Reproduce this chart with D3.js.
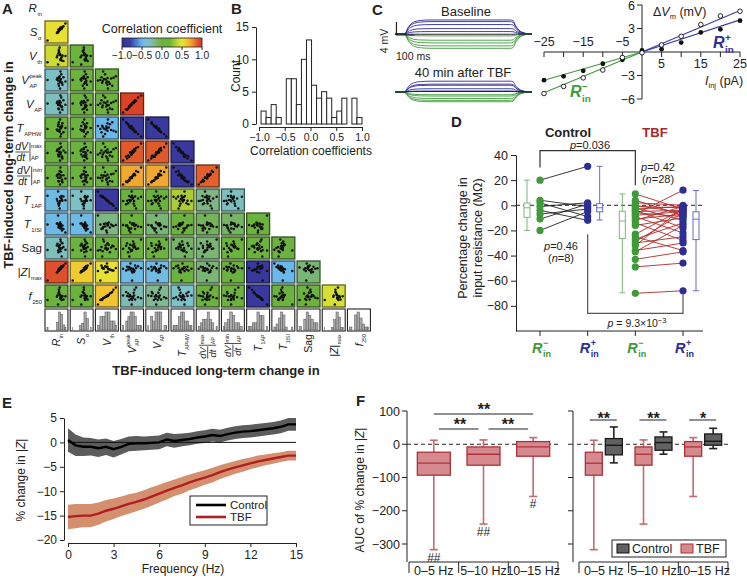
<!DOCTYPE html>
<html><head><meta charset="utf-8">
<script src="https://cdn.jsdelivr.net/npm/d3@7"></script>
<style>html,body{margin:0;padding:0;background:#fff}</style>
</head><body>
<svg id="chart" width="747" height="578" xmlns="http://www.w3.org/2000/svg"></svg>
<script>
const FONT='"Liberation Sans", Arial, Helvetica, sans-serif';
const svg=d3.select("#chart").attr("font-family",FONT);
const INK="#222";

// ================= DATA =================
// Panel A: estimated per-cell long-term changes (normalized 0-100) per variable
const aVars = ["Rin","Sa","Vth","Vpeak","VAP","TAPHW","dVmax","dVmin","T1AP","T1ISI","Sag","Zmax","f250"];
const vRin   = [5,62,70,55,78,66,72,60,85,68,74,58,80,64,70,95,62,76,52,68];
const vSa    = [8,55,72,50,70,60,68,62,78,66,70,48,75,58,64,92,60,66,45,62];
const vVth   = [30,80,40,60,55,95,45,70,35,65,50,20,60,75,42,58,85,38,52,62];
const vVpeak = [50,20,45,60,35,70,55,30,65,40,80,48,25,58,95,42,62,36,52,5];
const vVAP   = [52,24,42,62,38,66,58,28,68,44,82,45,22,55,92,46,60,34,55,8];
const vTAPHW = [45,80,55,35,58,30,48,70,28,52,18,60,75,40,5,50,36,62,42,95];
const vDVmax = [48,30,40,65,30,72,50,35,60,50,78,40,20,52,95,50,66,28,58,10];
const vDVmin = [44,28,46,58,36,75,55,30,56,46,70,45,25,60,90,42,62,32,52,15];
const vT1AP  = [65,25,58,40,45,5,55,30,62,38,52,85,42,28,60,44,18,64,50,40];
const vT1ISI = [50,45,30,55,20,48,52,35,28,60,40,95,45,50,38,10,42,30,55,48];
const vSag   = [40,60,35,70,50,45,80,30,55,65,48,38,72,52,90,42,58,10,62,46];
const vZmax  = [8,58,68,50,75,70,66,62,82,64,78,55,76,60,68,92,58,72,48,66];
const vF250  = [40,75,45,60,55,95,50,68,42,62,52,20,58,72,48,56,85,40,54,60];
const aValues = [vRin,vSa,vVth,vVpeak,vVAP,vTAPHW,vDVmax,vDVmin,vT1AP,vT1ISI,vSag,vZmax,vF250];

// correlation coefficients (row variable vs earlier column variables)
const corrSa    = [0.52];
const corrVth   = [0.42,0.12];
const corrVpeak = [-0.32,0.1,0.08];
const corrVAP   = [-0.3,-0.05,0.05,0.95];
const corrTAPHW = [0.1,0.05,-0.5,-0.86,-0.86];
const corrDVmax = [0.1,0.1,0.15,0.86,0.86,-0.88];
const corrDVmin = [0.05,0.05,0.1,0.72,0.72,-0.88,0.85];
const corrT1AP  = [-0.45,-0.32,-0.88,0.1,0.1,0.33,-0.18,-0.3];
const corrT1ISI = [-0.47,-0.47,-0.18,0.05,-0.15,0.1,-0.1,-0.12,0.1];
const corrSag   = [-0.3,0.1,0.05,0.1,0.1,-0.12,-0.15,0.1,0.1,0.08];
const corrZmax  = [0.9,0.6,0.52,-0.45,-0.45,0.05,-0.15,-0.05,-0.88,-0.5,-0.15];
const corrF250  = [0.1,0.1,0.62,-0.28,-0.2,-0.33,0.05,0.1,-0.88,0.1,0.05,0.45];
const corrRows = [corrSa,corrVth,corrVpeak,corrVAP,corrTAPHW,corrDVmax,corrDVmin,corrT1AP,corrT1ISI,corrSag,corrZmax,corrF250];
const cbTicks = [-1,-0.5,0,0.5,1];

// Panel B histogram counts
const bCounts = [2,1,3,1,0,7,7,3,10,13,6,4,5,4,1,2,4,0,4,1];
const bStart = -0.96, bWidth = 0.098;

// Panel C
const ivI    = [-25,-20,-15,-10,-5,0,5,10,15,20,25];
const ivBase = [-5.3,-4.4,-3.3,-2.3,-0.7,-0.1,0.9,2.0,3.5,4.6,5.2];
const ivTBF  = [-3.6,-3.1,-2.4,-1.5,-1.0,0.2,0.35,1.2,2.5,2.9,4.0];
const fitSlopes = {basePos:0.212, baseNeg:0.208, tbfPos:0.164, tbfNeg:0.144};
const traceTime  = [0,50,60,70,80,95,110,140,200,300,400,500,600,640,655,668,680,695,710,730,760];
const traceShape = [0,0,0.1,0.4,0.6,0.78,0.88,0.96,1,1,1,1,1,1,0.95,0.62,0.4,0.2,0.1,0.03,0];

// Panel D
const dCtlNeg = [20,4,2,-1,-4,-7,-11,-20];
const dCtlPos = [31,-1,-9,2,-12,-3,1,-5];
const dTbfNeg = [9,4,2,0,-1,-2,-3,-4,-5,-6,-7,-8,-9,-11,-12,-14,-16,-23,-25,-27,-29,-30,-32,-36,-37,-43,-49,-70];
const dTbfPos = [-3,-8,0,-6,-2,-12,-1,-18,-4,-9,12,-5,-22,-7,-1,-28,-10,-3,-36,-14,-6,-25,-2,-30,-16,-37,-46,-68];
const dBoxLo  = [-20,-11.7,-69.6,-68];
const dBoxQ1  = [-9.6,-5.2,-26.5,-27.3];
const dBoxMed = [-2,-2,-12.5,-11];
const dBoxQ3  = [1.8,1.3,-4.7,-5.2];
const dBoxHi  = [20,31,9,11.7];
const dTicks  = [40,20,0,-20,-40,-60,-80];

// Panel E
const eFreq = [0,0.5,1,1.5,2,2.5,3,3.5,4,4.5,5,5.5,6,6.5,7,7.5,8,8.5,9,9.5,10,10.5,11,11.5,12,12.5,13,13.5,14,14.5,15];
const eCtlMean = [0.5,-0.6,-0.9,-0.9,-1.2,-0.9,-1.4,-0.9,-0.3,-0.2,-0.2,-0.1,0,0.6,0.3,0.5,0.7,1.0,1.2,1.5,1.3,1.7,2.0,2.2,2.3,2.5,2.7,2.9,3.2,3.7,3.7];
const eCtlSem  = [2.4,2.2,1.9,1.8,1.8,1.7,1.7,1.6,1.5,1.5,1.4,1.4,1.4,1.4,1.4,1.3,1.3,1.3,1.3,1.3,1.3,1.3,1.3,1.3,1.3,1.3,1.3,1.3,1.3,1.3,1.3];
const eTbfMean = [-15.3,-15.1,-15.0,-15.0,-14.6,-14.0,-13.6,-13.1,-12.6,-12.2,-11.7,-11.1,-10.5,-9.9,-9.3,-8.8,-8.2,-7.7,-7.2,-6.7,-6.1,-5.6,-5.1,-4.7,-4.3,-3.9,-3.6,-3.3,-3.0,-2.7,-2.7];
const eTbfSem  = [2.5,2.5,2.4,2.4,2.3,2.2,2.1,2.0,2.0,1.9,1.9,1.9,1.8,1.8,1.7,1.7,1.6,1.6,1.5,1.5,1.4,1.4,1.3,1.3,1.2,1.2,1.1,1.1,1.0,1.0,1.0];

// Panel F
const fCats = ["0–5 Hz","5–10 Hz","10–15 Hz"];
const fTbfLo  = [-317,-240,-157];
const fTbfQ1  = [-93,-63,-36];
const fTbfMed = [-57,-30,-8];
const fTbfQ3  = [-24,-8,8];
const fTbfHi  = [12,13,20];
const fCtlLo  = [-56,-30,-13];
const fCtlQ1  = [-32,-18,-3];
const fCtlMed = [-3,5,9];
const fCtlQ3  = [17,22,31];
const fCtlHi  = [52,37,48];
const fHash   = ["##","##","#"];
const fRightSig = ["**","**","*"];

// ================= HELPERS =================
function txt(g,x,y,s,fs,anchor,extra){
  const t=g.append("text").attr("x",x).attr("y",y).attr("font-size",fs).attr("fill",INK).attr("text-anchor",anchor||"start").text(s);
  if(extra) Object.entries(extra).forEach(([k,v])=>t.attr(k,v));
  return t;
}
function styleAxis(g,fs){
  g.attr("font-family",FONT).attr("font-size",fs);
  g.selectAll("text").attr("fill",INK);
  g.selectAll("line,path").attr("stroke",INK).attr("stroke-width",1);
}
function label(g,x,y,s){ txt(g,x,y,s,15,"start",{"font-weight":"bold"}); }

const labelSpec = {
  Rin:{m:"R",sub:"in"}, Sa:{m:"S",sub:"α"}, Vth:{m:"V",sub:"th"}, Vpeak:{m:"V",sub:"AP",sup:"peak"},
  VAP:{m:"V",sub:"AP"}, TAPHW:{m:"T",sub:"APHW"}, dVmax:{frac:"max"}, dVmin:{frac:"min"},
  T1AP:{m:"T",sub:"1AP"}, T1ISI:{m:"T",sub:"1ISI"}, Sag:{m:"Sag",up:true}, Zmax:{m:"|Z|",sub:"max"}, f250:{m:"f",sub:"250"}
};
function varLabel(parent,key,fs){
  const sp=labelSpec[key]; const g=parent.append("g"); const ss=fs*0.5; const b=fs*0.36;
  if(sp.frac){
    const f=fs*0.9, s2=fs*0.5;
    txt(g,0,-2,"dV",f,"start",{"font-style":"italic"});
    g.append("line").attr("x1",0).attr("x2",f*1.3).attr("y1",0).attr("y2",0).attr("stroke",INK).attr("stroke-width",0.8);
    txt(g,f*0.12,f*0.86,"dt",f,"start",{"font-style":"italic"});
    g.append("line").attr("x1",f*1.42).attr("x2",f*1.42).attr("y1",-f*0.9).attr("y2",f*0.9).attr("stroke",INK).attr("stroke-width",0.8);
    txt(g,f*1.52,-f*0.42,sp.frac,s2);
    txt(g,f*1.52,f*0.82,"AP",s2);
    return g;
  }
  const t=txt(g,0,b,sp.m,fs);
  if(!sp.up) t.attr("font-style","italic");
  const w=t.node().getComputedTextLength();
  if(sp.sub) txt(g,w+0.6,b+fs*0.3,sp.sub,ss);
  if(sp.sup) txt(g,w+0.6,b-fs*0.55,sp.sup,ss);
  return g;
}

// ================= PANEL A =================
const A=svg.append("g");
label(A,2,14,"A");
const aCol = d3.scaleBand().domain(aVars).range([45,45+13*25.2-2.2]).paddingInner(0.09).paddingOuter(0);
const aRow = d3.scaleBand().domain(aVars.concat(["hist"])).range([-3,-3+14*24-2]).paddingInner(0.083).paddingOuter(0);
const corrColor = d3.scaleLinear()
  .domain([-1,-0.8,-0.65,-0.5,-0.35,-0.2,-0.05,0.2,0.35,0.5,0.62,0.75,0.86,1])
  .range(["#33339a","#3b3ba0","#4a78d0","#6ab8ea","#7cc2d2","#80b890","#6cb040","#6cb43c","#b4d034","#e6e636","#f2c430","#f0a030","#e05a2c","#d83628"])
  .interpolate(d3.interpolateRgb);
const aExt = aValues.map(v=>d3.extent(v));
const bw=aCol.bandwidth(), bh=aRow.bandwidth();
corrRows.forEach((row,ri)=>{
  const r=ri+1; const ry=aRow(aVars[r]);
  row.forEach((cv,c)=>{
    const cx=aCol(aVars[c]);
    const fill=corrColor(cv);
    A.append("rect").attr("x",cx).attr("y",ry).attr("width",bw).attr("height",bh)
      .attr("fill",fill).attr("stroke",d3.color(fill).darker(2.2)).attr("stroke-width",1.3);
    const sx=d3.scaleLinear(aExt[c],[cx+2.5,cx+bw-2.5]);
    const sy=d3.scaleLinear(aExt[r],[ry+bh-2.5,ry+2.5]);
    A.append("g").selectAll("circle").data(d3.range(aValues[c].length)).join("circle")
      .attr("cx",i=>sx(aValues[c][i])).attr("cy",i=>sy(aValues[r][i])).attr("r",1.25).attr("fill","#111");
  });
});
// histogram row
aVars.forEach((k,c)=>{
  const cx=aCol(k), ry=aRow("hist");
  A.append("rect").attr("x",cx).attr("y",ry).attr("width",bw).attr("height",bh).attr("fill","#fff").attr("stroke",INK).attr("stroke-width",1.1);
  const bins=d3.bin().domain(aExt[c]).thresholds(7)(aValues[c]);
  const hx=d3.scaleLinear(aExt[c],[cx+2,cx+bw-2]);
  const hy=d3.scaleLinear([0,d3.max(bins,b=>b.length)],[ry+bh-1,ry+3]);
  A.append("g").selectAll("rect").data(bins).join("rect")
    .attr("x",b=>hx(b.x0)).attr("width",b=>Math.max(0,hx(b.x1)-hx(b.x0)))
    .attr("y",b=>hy(b.length)).attr("height",b=>hy(0)-hy(b.length))
    .attr("fill","#aaa").attr("stroke","#555").attr("stroke-width",0.5);
});
// row labels
aVars.forEach((k,r)=>{
  const cy=aRow(k)+bh/2;
  const g=varLabel(A,k,11.5);
  const bb=g.node().getBBox();
  g.attr("transform",`translate(${42-bb.x-bb.width},${cy})`);
});
// column labels
aVars.forEach((k,c)=>{
  const cx=aCol(k)+bw/2;
  const outer=A.append("g").attr("transform",`translate(${cx},${aRow("hist")+bh+3}) rotate(-90)`);
  const g=varLabel(outer,k,10.5);
  const bb=g.node().getBBox();
  g.attr("transform",`translate(${-bb.x-bb.width},0)`);
});
txt(A,13,165,"TBF-induced long-term change in",13,"middle",{"font-weight":"bold","transform":"rotate(-90,13,165)"});
txt(A,216,375,"TBF-induced long-term change in",13,"middle",{"font-weight":"bold"});
// colorbar
const cbX=d3.scaleLinear([-1,1],[122,202]);
const defs=svg.append("defs");
const grad=defs.append("linearGradient").attr("id","cbgrad");
d3.range(0,1.0001,0.05).forEach(t=>grad.append("stop").attr("offset",t).attr("stop-color",corrColor(-1+2*t)));
A.append("rect").attr("x",cbX(-1)).attr("y",38).attr("width",cbX(1)-cbX(-1)).attr("height",9).attr("fill","url(#cbgrad)").attr("stroke",INK).attr("stroke-width",0.8);
cbTicks.forEach(t=>{
  A.append("line").attr("x1",cbX(t)).attr("x2",cbX(t)).attr("y1",47).attr("y2",50).attr("stroke",INK);
  txt(A,cbX(t),59,d3.format(".1f")(t),10.2,"middle");
});
txt(A,162,33,"Correlation coefficient",12.5,"middle");

// ================= PANEL B =================
const B=svg.append("g");
label(B,231,14,"B");
const xB=d3.scaleLinear([-1,1],[259,362]);
const yB=d3.scaleLinear([0,15],[124,27]);
B.append("g").selectAll("rect").data(bCounts).join("rect")
  .attr("x",(d,i)=>xB(bStart+i*bWidth)).attr("width",(d,i)=>xB(bStart+(i+1)*bWidth)-xB(bStart+i*bWidth))
  .attr("y",d=>yB(d)).attr("height",d=>yB(0)-yB(d)).attr("fill","#fff").attr("stroke",INK).attr("stroke-width",1);
const gBy=B.append("g").attr("transform","translate(256,0)").call(d3.axisLeft(yB).tickValues([0,5,10,15]).tickSize(4).tickSizeOuter(0));
styleAxis(gBy,12);
const gBx=B.append("g").attr("transform","translate(0,127)").call(d3.axisBottom(xB).tickValues([-1,-0.5,0,0.5,1]).tickFormat(d3.format(".1f")).tickSize(4).tickSizeOuter(0));
styleAxis(gBx,10.5);
txt(B,311,155,"Correlation coefficients",12,"middle");
txt(B,240,76,"Count",12,"middle",{"transform":"rotate(-90,240,76)"});

// ================= PANEL C =================
const C=svg.append("g");
label(C,372,15,"C");
const trX=d3.scaleLinear([0,760],[395,532]);
const trY=d3.scaleLinear([-6,6],[16.2,-16.2]);
function drawTraces(baseY,amps){
  const order=d3.range(ivI.length).sort((a,b)=>Math.abs(ivI[a])-Math.abs(ivI[b])).reverse();
  order.forEach(i=>{
    const col=ivI[i]>0?"#2d2d96":(ivI[i]<0?"#3f9a3a":"#111");
    const line=d3.line().x((t,j)=>trX(t)).y((t,j)=>baseY+trY(amps[i]*traceShape[j])).curve(d3.curveMonotoneX);
    C.append("path").attr("d",line(traceTime)).attr("fill","none").attr("stroke",col).attr("stroke-width",0.9);
  });
}
drawTraces(34,ivBase);
drawTraces(92,ivTBF);
txt(C,466,16,"Baseline",13,"middle");
txt(C,463,77,"40 min after TBF",13,"middle");
// scale bar
C.append("path").attr("d",`M${trX(8)},${34+trY(0)-12}V${34+trY(0)+1}H${trX(8)+trX(100)-trX(0)}`).attr("fill","none").attr("stroke",INK).attr("stroke-width",1.2);
txt(C,396,60,"100 ms",10.5,"start");
txt(C,388,41,"4 mV",10.5,"middle",{"transform":"rotate(-90,388,41)"});
// IV plot
const xC=d3.scaleLinear([-25,25],[544,740]);
const yC=d3.scaleLinear([-6,6],[99,5]);
C.append("line").attr("x1",xC(-25)).attr("x2",xC(25)).attr("y1",yC(0)).attr("y2",yC(0)).attr("stroke",INK);
C.append("line").attr("x1",xC(0)).attr("x2",xC(0)).attr("y1",yC(6)).attr("y2",yC(-6)).attr("stroke",INK);
ivI.forEach(v=>{ if(v!==0) C.append("line").attr("x1",xC(v)).attr("x2",xC(v)).attr("y1",yC(0)).attr("y2",yC(0)+5).attr("stroke",INK); });
[-25,-15,-5].forEach(v=>txt(C,xC(v),yC(0)-6,d3.format("d")(v),12.5,"middle"));
[5,15,25].forEach(v=>txt(C,xC(v),yC(0)+16,String(v),12.5,"middle"));
[6,3,-3,-6].forEach(v=>{
  C.append("line").attr("x1",xC(0)-5).attr("x2",xC(0)).attr("y1",yC(v)).attr("y2",yC(v)).attr("stroke",INK);
  txt(C,xC(0)-7,yC(v)+4.5,d3.format("d")(v),12.5,"end");
});
const dv=txt(C,653,16,"",12.5,"start");
dv.append("tspan").text("Δ"); dv.append("tspan").attr("font-style","italic").text("V");
dv.append("tspan").attr("font-size",7.5).attr("dy",3).text("m");
dv.append("tspan").attr("dy",-3).text(" (mV)");
const ii=txt(C,705,85,"",12.5,"start");
ii.append("tspan").attr("font-style","italic").text("I");
ii.append("tspan").attr("font-size",7.5).attr("dy",3).text("inj");
ii.append("tspan").attr("dy",-3).text(" (pA)");
// fits
const fits=[[0,25,fitSlopes.basePos,"#3a3aa8"],[0,25,fitSlopes.tbfPos,"#3a3aa8"],[-25,0,fitSlopes.baseNeg,"#3f9a3a"],[-25,0,fitSlopes.tbfNeg,"#3f9a3a"]];
fits.forEach(f=>C.append("line").attr("x1",xC(f[0])).attr("x2",xC(f[1])).attr("y1",yC(f[0]*f[2])).attr("y2",yC(f[1]*f[2])).attr("stroke",f[3]).attr("stroke-width",1.1));
C.append("g").selectAll("circle").data(ivI).join("circle").attr("cx",d=>xC(d)).attr("cy",(d,i)=>yC(ivTBF[i])).attr("r",2.4).attr("fill","#111");
C.append("g").selectAll("circle").data(ivI).join("circle").attr("cx",d=>xC(d)).attr("cy",(d,i)=>yC(ivBase[i])).attr("r",2.3).attr("fill","#fff").attr("stroke","#111").attr("stroke-width",0.9);
function rinLabel(g,x,y,sign,col,fs){
  const t=txt(g,x,y,"R",fs,"start",{"font-style":"italic","font-weight":"bold","fill":col});
  const w=t.node().getComputedTextLength();
  txt(g,x+w+0.5,y-fs*0.45,sign,fs*0.62,"start",{"font-weight":"bold","fill":col});
  txt(g,x+w+0.5,y+fs*0.3,"in",fs*0.62,"start",{"font-weight":"bold","fill":col});
}
rinLabel(C,713,48,"+","#2d2d96",16);
rinLabel(C,570,97,"−","#3f9a3a",16);

// ================= PANEL D =================
const D=svg.append("g");
label(D,451,127,"D");
const dCats=["ctlNeg","ctlPos","tbfNeg","tbfPos"];
const xD=d3.scalePoint().domain(dCats).range([540,683]);
const yD=d3.scaleLinear([-100,40],[331,155]);
const gDy=D.append("g").attr("transform","translate(516,0)").call(d3.axisLeft(yD).tickValues(dTicks).tickFormat(d3.format("d")).tickSize(5).tickSizeOuter(0));
styleAxis(gDy,12.5);
D.append("line").attr("x1",516).attr("x2",703).attr("y1",yD(-100)).attr("y2",yD(-100)).attr("stroke",INK);
dCats.forEach(c=>D.append("line").attr("x1",xD(c)).attr("x2",xD(c)).attr("y1",yD(-100)).attr("y2",yD(-100)+5).attr("stroke",INK));
D.append("line").attr("x1",516).attr("x2",703).attr("y1",yD(0)).attr("y2",yD(0)).attr("stroke",INK).attr("stroke-dasharray","4,3");
txt(D,467,238,"Percentage change in",12.5,"middle",{"transform":"rotate(-90,467,238)"});
txt(D,482,238,"input resistance (MΩ)",12.5,"middle",{"transform":"rotate(-90,482,238)"});
txt(D,568,137,"Control",13,"middle",{"font-weight":"bold"});
txt(D,655,137,"TBF",13,"middle",{"font-weight":"bold","fill":"#a8282c"});
// pairs
const GREEN="#3f9a3a", BLUE="#2d2d96";
dCtlNeg.forEach((v,i)=>D.append("line").attr("x1",xD("ctlNeg")).attr("x2",xD("ctlPos")).attr("y1",yD(v)).attr("y2",yD(dCtlPos[i])).attr("stroke","#222").attr("stroke-width",0.9));
dTbfNeg.forEach((v,i)=>D.append("line").attr("x1",xD("tbfNeg")).attr("x2",xD("tbfPos")).attr("y1",yD(v)).attr("y2",yD(dTbfPos[i])).attr("stroke","#b02a2a").attr("stroke-width",0.9));
[[dCtlNeg,"ctlNeg",GREEN],[dCtlPos,"ctlPos",BLUE],[dTbfNeg,"tbfNeg",GREEN],[dTbfPos,"tbfPos",BLUE]].forEach(([arr,c,col])=>{
  D.append("g").selectAll("circle").data(arr).join("circle").attr("cx",xD(c)).attr("cy",d=>yD(d)).attr("r",3.6).attr("fill",col);
});
// boxes
const dBoxOff=[-13,12,-13,13];
const dBoxCol=["#7cb87a","#6a6ac4","#7cb87a","#6a6ac4"];
dCats.forEach((c,i)=>{
  const x=xD(c)+dBoxOff[i], w=6, col=dBoxCol[i];
  const g=D.append("g").attr("stroke",col).attr("fill","none").attr("stroke-width",1);
  g.append("line").attr("x1",x).attr("x2",x).attr("y1",yD(dBoxHi[i])).attr("y2",yD(dBoxQ3[i]));
  g.append("line").attr("x1",x).attr("x2",x).attr("y1",yD(dBoxQ1[i])).attr("y2",yD(dBoxLo[i]));
  g.append("line").attr("x1",x-3).attr("x2",x+3).attr("y1",yD(dBoxHi[i])).attr("y2",yD(dBoxHi[i]));
  g.append("line").attr("x1",x-3).attr("x2",x+3).attr("y1",yD(dBoxLo[i])).attr("y2",yD(dBoxLo[i]));
  g.append("rect").attr("x",x-w/2).attr("y",yD(dBoxQ3[i])).attr("width",w).attr("height",yD(dBoxQ1[i])-yD(dBoxQ3[i])).attr("fill","#fff");
  g.append("line").attr("x1",x-w/2).attr("x2",x+w/2).attr("y1",yD(dBoxMed[i])).attr("y2",yD(dBoxMed[i]));
});
// brackets
D.append("path").attr("d",`M${xD("ctlNeg")},${yD(30)}V${yD(43.5)}H${xD("tbfNeg")}V${yD(16)}`).attr("fill","none").attr("stroke","#333").attr("stroke-width",1.2);
D.append("path").attr("d",`M${xD("ctlPos")},${yD(-23)}V${yD(-86)}H${xD("tbfPos")}V${yD(-70)}`).attr("fill","none").attr("stroke","#555").attr("stroke-width",1.2);
function pLabel(g,x,y,val,fs){
  const t=txt(g,x,y,"",fs,"middle");
  t.append("tspan").attr("font-style","italic").text("p");
  t.append("tspan").text(val);
  return t;
}
pLabel(D,590,149,"=0.036",11);
pLabel(D,561,250,"=0.46",11);
const n8=txt(D,561,262,"",11,"middle"); n8.append("tspan").text("("); n8.append("tspan").attr("font-style","italic").text("n"); n8.append("tspan").text("=8)");
pLabel(D,658,171,"=0.42",11);
const n28=txt(D,658,183,"",11,"middle"); n28.append("tspan").text("("); n28.append("tspan").attr("font-style","italic").text("n"); n28.append("tspan").text("=28)");
const p93=txt(D,637,327,"",10.5,"middle");
p93.append("tspan").attr("font-style","italic").text("p");
p93.append("tspan").text(" = 9.3×10");
p93.append("tspan").attr("dy",-4).attr("font-size",7.5).text("−3");
const dLabCol=[GREEN,BLUE,GREEN,BLUE], dLabSign=["−","+","−","+"];
dCats.forEach((c,i)=>rinLabel(D,xD(c)-8,353,dLabSign[i],dLabCol[i],14.5));

// ================= PANEL E =================
const E=svg.append("g");
label(E,2,408,"E");
const xE=d3.scaleLinear([0,15],[68,296]);
const yE=d3.scaleLinear([-20,5],[540,418]);
const gEy=E.append("g").attr("transform","translate(64,0)").call(d3.axisLeft(yE).tickValues([5,0,-5,-10,-15,-20]).tickFormat(d3.format("d")).tickSize(4).tickSizeOuter(0));
styleAxis(gEy,12);
const gEx=E.append("g").attr("transform","translate(0,543)").call(d3.axisBottom(xE).tickValues([0,3,6,9,12,15]).tickSize(4).tickSizeOuter(0));
styleAxis(gEx,12);
txt(E,183,573,"Frequency (Hz)",12,"middle");
const ey=txt(E,25,480,"",12,"middle",{"transform":"rotate(-90,25,480)"});
ey.append("tspan").text("% change in |"); ey.append("tspan").attr("font-style","italic").text("Z"); ey.append("tspan").text("|");
const bandC=d3.area().x((d,i)=>xE(eFreq[i])).y0((d,i)=>yE(eCtlMean[i]-eCtlSem[i])).y1((d,i)=>yE(eCtlMean[i]+eCtlSem[i]));
const bandT=d3.area().x((d,i)=>xE(eFreq[i])).y0((d,i)=>yE(eTbfMean[i]-eTbfSem[i])).y1((d,i)=>yE(eTbfMean[i]+eTbfSem[i]));
E.append("path").attr("d",bandT(eFreq)).attr("fill","#d4906e");
E.append("path").attr("d",bandC(eFreq)).attr("fill","#5c5c5c");
E.append("line").attr("x1",xE(0)).attr("x2",xE(15)).attr("y1",yE(0)).attr("y2",yE(0)).attr("stroke","#111").attr("stroke-width",1);
E.append("path").attr("d",d3.line().x((d,i)=>xE(eFreq[i])).y((d,i)=>yE(eTbfMean[i]))(eFreq)).attr("fill","none").attr("stroke","#b01e22").attr("stroke-width",2.4);
E.append("path").attr("d",d3.line().x((d,i)=>xE(eFreq[i])).y((d,i)=>yE(eCtlMean[i]))(eFreq)).attr("fill","none").attr("stroke","#000").attr("stroke-width",2.4);
E.append("rect").attr("x",190).attr("y",496).attr("width",77).attr("height",29).attr("fill","#fff").attr("stroke",INK).attr("stroke-width",1);
E.append("line").attr("x1",196).attr("x2",226).attr("y1",505).attr("y2",505).attr("stroke","#000").attr("stroke-width",2.6);
E.append("line").attr("x1",196).attr("x2",226).attr("y1",517).attr("y2",517).attr("stroke","#b01e22").attr("stroke-width",2.6);
txt(E,230,509,"Control",11.5);
txt(E,230,521,"TBF",11.5);

// ================= PANEL F =================
const F=svg.append("g");
label(F,356,406,"F");
const yF=d3.scaleLinear([-300,100],[544,411]);
const xFL=d3.scaleBand().domain(fCats).range([409,558]);
const xFR=d3.scaleBand().domain(fCats).range([579,728]);
function fAxis(x,labels){
  F.append("line").attr("x1",x).attr("x2",x).attr("y1",yF(100)).attr("y2",562).attr("stroke",INK);
  [100,0,-100,-200,-300].forEach(v=>{
    F.append("line").attr("x1",x-5).attr("x2",x).attr("y1",yF(v)).attr("y2",yF(v)).attr("stroke",INK);
    if(labels) txt(F,x-7,yF(v)+4.5,d3.format("d")(v),12.5,"end");
  });
}
fAxis(407,true); fAxis(573,false);
const fy=txt(F,364,490,"",12,"middle",{"transform":"rotate(-90,364,490)"});
fy.append("tspan").text("AUC of % change in |"); fy.append("tspan").attr("font-style","italic").text("Z"); fy.append("tspan").text("|");
[xFL,xFR].forEach(sc=>{
  const r=sc.range();
  F.append("line").attr("x1",r[0]).attr("x2",r[1]).attr("y1",562).attr("y2",562).attr("stroke",INK);
  fCats.forEach(c=>{
    F.append("line").attr("x1",sc(c)).attr("x2",sc(c)).attr("y1",562).attr("y2",573).attr("stroke",INK);
    txt(F,sc(c)+sc.bandwidth()/2,575,c,12.5,"middle");
  });
  F.append("line").attr("x1",r[1]).attr("x2",r[1]).attr("y1",562).attr("y2",573).attr("stroke",INK);
  F.append("line").attr("x1",r[0]-2).attr("x2",r[1]).attr("y1",yF(0)).attr("y2",yF(0)).attr("stroke",INK).attr("stroke-dasharray","4,3");
});
function fBox(x,w,i,lo,q1,med,q3,hi,fill,stroke,whisk,medCol){
  const g=F.append("g");
  g.append("line").attr("x1",x).attr("x2",x).attr("y1",yF(hi[i])).attr("y2",yF(lo[i])).attr("stroke",whisk).attr("stroke-width",1.6);
  g.append("line").attr("x1",x-4).attr("x2",x+4).attr("y1",yF(hi[i])).attr("y2",yF(hi[i])).attr("stroke",whisk).attr("stroke-width",1.6);
  g.append("line").attr("x1",x-4).attr("x2",x+4).attr("y1",yF(lo[i])).attr("y2",yF(lo[i])).attr("stroke",whisk).attr("stroke-width",1.6);
  g.append("rect").attr("x",x-w/2).attr("y",yF(q3[i])).attr("width",w).attr("height",yF(q1[i])-yF(q3[i])).attr("fill",fill).attr("stroke",stroke).attr("stroke-width",1.3);
  g.append("line").attr("x1",x-w/2).attr("x2",x+w/2).attr("y1",yF(med[i])).attr("y2",yF(med[i])).attr("stroke",medCol).attr("stroke-width",1.3);
}
const TBFFILL="#d58a90", TBFSTROKE="#b03038", TBFWH="#c86870", CTLFILL="#616161";
fCats.forEach((c,i)=>{
  fBox(xFL(c)+xFL.bandwidth()/2,33,i,fTbfLo,fTbfQ1,fTbfMed,fTbfQ3,fTbfHi,TBFFILL,TBFSTROKE,TBFWH,TBFSTROKE);
  const cR=xFR(c)+xFR.bandwidth()/2;
  fBox(cR-10,17,i,fTbfLo,fTbfQ1,fTbfMed,fTbfQ3,fTbfHi,TBFFILL,TBFSTROKE,TBFWH,TBFSTROKE);
  fBox(cR+10,17,i,fCtlLo,fCtlQ1,fCtlMed,fCtlQ3,fCtlHi,CTLFILL,"#1a1a1a","#222","#111");
  txt(F,xFL(c)+xFL.bandwidth()/2,yF(fTbfLo[i])+12,fHash[i],12,"middle");
  // right significance
  F.append("line").attr("x1",cR-14).attr("x2",cR+13).attr("y1",420).attr("y2",420).attr("stroke",INK);
  txt(F,cR,424,fRightSig[i],16,"middle",{"font-weight":"bold"});
});
// left significance brackets
const cL=c=>xFL(c)+xFL.bandwidth()/2;
F.append("line").attr("x1",cL(fCats[0])).attr("x2",cL(fCats[2])).attr("y1",414).attr("y2",414).attr("stroke",INK);
txt(F,484,415,"**",16,"middle",{"font-weight":"bold"});
F.append("line").attr("x1",cL(fCats[0])+5).attr("x2",cL(fCats[1])-5).attr("y1",429).attr("y2",429).attr("stroke",INK);
txt(F,460,430,"**",16,"middle",{"font-weight":"bold"});
F.append("line").attr("x1",cL(fCats[1])+5).attr("x2",cL(fCats[2])-5).attr("y1",429).attr("y2",429).attr("stroke",INK);
txt(F,508,430,"**",16,"middle",{"font-weight":"bold"});
// legend
F.append("rect").attr("x",612).attr("y",540).attr("width",114).attr("height",17).attr("fill","#fff").attr("stroke",INK);
F.append("rect").attr("x",617).attr("y",544).attr("width",12).attr("height",9).attr("fill",CTLFILL).attr("stroke","#111");
txt(F,632,553,"Control",12.5);
F.append("rect").attr("x",681).attr("y",544).attr("width",12).attr("height",9).attr("fill",TBFFILL).attr("stroke",TBFSTROKE);
txt(F,696,553,"TBF",12.5);
</script></body></html>
